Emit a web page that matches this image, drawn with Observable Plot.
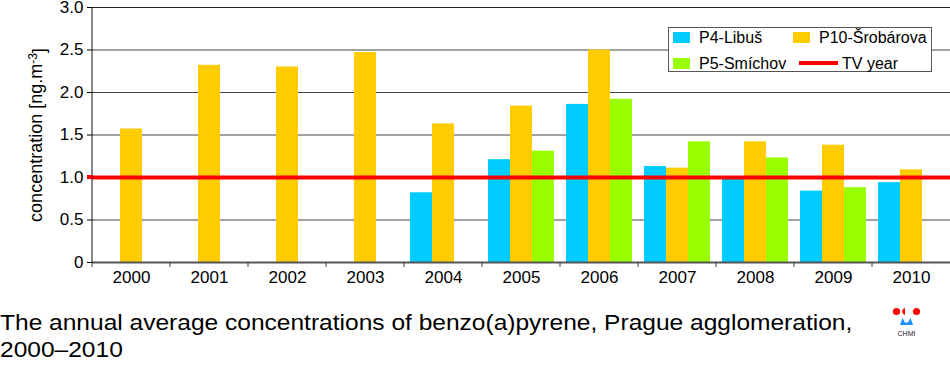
<!DOCTYPE html>
<html><head><meta charset="utf-8">
<script src="https://cdn.jsdelivr.net/npm/d3@7"></script>
<script src="https://cdn.jsdelivr.net/npm/@observablehq/plot@0.6"></script>
<style>
body{margin:0;background:#fff;font-family:"Liberation Sans",Arial,sans-serif;color:#000;}
#wrap{position:relative;width:950px;height:370px;overflow:hidden;}
#chart svg{display:block;}
#legend{position:absolute;left:668px;top:27px;width:262px;height:43px;border:1px solid #555;background:#fff;font-size:16px;line-height:16px;}
#legend .it{position:absolute;white-space:nowrap;}
#legend .sw{position:absolute;width:17px;height:11px;}
#legend .ln{position:absolute;width:39px;height:4px;}
#i0 .sw{left:4px;top:4px}   #i0 .tx{position:absolute;left:30px;top:2px}
#i1 .sw{left:124px;top:4px} #i1 .tx{position:absolute;left:150px;top:2px}
#i2 .sw{left:4px;top:30px}  #i2 .tx{position:absolute;left:30px;top:28px}
#i3 .ln{left:130px;top:33px} #i3 .tx{position:absolute;left:173px;top:28px}
#caption{position:absolute;left:0;top:309px;font-size:22px;line-height:27px;white-space:nowrap;transform-origin:0 0;transform:scaleX(1.115);}
#logo{position:absolute;left:888px;top:302px;}
</style></head>
<body><div id="wrap"><div id="chart"></div><div id="legend"></div><div id="caption"></div><div id="logo"></div></div>
<script>
const years = ["2000","2001","2002","2003","2004","2005","2006","2007","2008","2009","2010"];
const series = ["P4-Libuš","P10-Šrobárova","P5-Smíchov"];
const p4Libus    = [null,null,null,null,0.82,1.21,1.86,1.13,0.98,0.84,0.94];
const p10Srob    = [1.57,2.32,2.30,2.47,1.63,1.84,2.50,1.11,1.42,1.38,1.09];
const p5Smichov  = [null,null,null,null,null,1.31,1.92,1.42,1.23,0.88,null];
const colors = ["#00ccff","#ffcc00","#99ff00"];
const tvYear = 1.0;
const tvLabel = "TV year";
const yTicks = [0,0.5,1.0,1.5,2.0,2.5,3.0];
const yLabel = "concentration [ng.m";
const ySup = "-3";
const captionLines = ["The annual average concentrations of benzo(a)pyrene, Prague agglomeration,","2000–2010"];

const valuesBySeries = [p4Libus, p10Srob, p5Smichov];
const data = years.flatMap((yr, i) => series.map((s, k) => ({year: yr, series: s, value: valuesBySeries[k][i]})))
  .filter(d => d.value != null);

const chart = Plot.plot({
  width: 950, height: 290,
  marginLeft: 91, marginRight: 0, marginTop: 7, marginBottom: 28,
  style: {fontFamily: "'Liberation Sans', Arial, sans-serif", fontSize: "17px", color: "#000", background: "#fff"},
  fx: {domain: years, padding: 0, label: null, axis: null},
  x: {domain: series, paddingInner: 0, paddingOuter: 0.23, axis: null},
  y: {domain: [0, 3]},
  color: {domain: series, range: colors},
  marks: [
    Plot.gridY(yTicks, {stroke: "#444", strokeOpacity: 1}),
    Plot.ruleY([yTicks[yTicks.length - 1]], {stroke: "#222"}),
    Plot.barY(data, {fx: "year", x: "series", y: "value", fill: "series"}),
    Plot.ruleY([0], {stroke: "#555", strokeWidth: 2}),
    Plot.ruleY([tvYear], {stroke: "#ff0000", strokeWidth: 4}),
    Plot.axisY(yTicks, {tickSize: 5, tickPadding: 4, fontSize: 17,
      tickFormat: d => d === 0 ? "0" : d.toFixed(1),
      label: yLabel, labelAnchor: "center", labelArrow: "none", labelOffset: 63}),
    Plot.axisFx({anchor: "bottom", tickSize: 0, tickPadding: 8, fontSize: 17, label: null})
  ]
});
document.getElementById("chart").appendChild(chart);

// superscript in axis label, tick marks at year boundaries, y axis line
const svg = d3.select(chart);
svg.selectAll("text").filter(function(){ return this.textContent === yLabel; }).each(function(){
  const t = d3.select(this);
  t.attr("font-size", 18);
  t.append("tspan").attr("dy", "-0.45em").attr("font-size", 12).text(ySup);
  t.append("tspan").attr("dy", "0.45em").text("]");
});
const fx = chart.scale("fx"), y = chart.scale("y");
const y0 = y.apply(0), y3 = y.apply(3);
const xLeft = fx.apply(years[0]);
svg.append("g").selectAll("line").data(years).join("line")
  .attr("x1", d => fx.apply(d)).attr("x2", d => fx.apply(d))
  .attr("y1", y0).attr("y2", y0 + 5).attr("stroke", "#444");
svg.append("line").attr("x1", xLeft).attr("x2", xLeft).attr("y1", y3).attr("y2", y0 + 1)
  .attr("stroke", "#111");
svg.append("line").attr("x1", xLeft - 5).attr("x2", xLeft).attr("y1", y.apply(tvYear)).attr("y2", y.apply(tvYear))
  .attr("stroke", "#ff0000").attr("stroke-width", 4);

// legend
const legend = document.getElementById("legend");
const entries = series.map((s, k) => ({label: s, color: colors[k], kind: "sw"}));
entries.push({label: tvLabel, color: "#ff0000", kind: "ln"});
entries.forEach((e, i) => {
  const it = document.createElement("div");
  it.className = "it"; it.id = "i" + i;
  const m = document.createElement("div"); m.className = e.kind; m.style.background = e.color;
  const tx = document.createElement("div"); tx.className = "tx"; tx.textContent = e.label;
  it.appendChild(m); it.appendChild(tx); legend.appendChild(it);
});

// caption
document.getElementById("caption").innerHTML = captionLines.join("<br>");

// logo
document.getElementById("logo").innerHTML =
  '<svg width="40" height="40" viewBox="0 0 40 40">' +
  '<circle cx="8.5" cy="9.5" r="3.6" fill="#ff0000"/>' +
  '<path d="M17,6 A3.6,3.6 0 0 0 17,13 Z" fill="#ff0000"/>' +
  '<circle cx="28.5" cy="9.5" r="3.6" fill="#ff0000"/>' +
  '<path d="M12,23 L14.5,16 L17,20.5 L20,20.5 L22.5,16 L25,23 Z" fill="#1e90ff"/>' +
  '<text x="18.5" y="34" font-size="7" text-anchor="middle" font-family="Liberation Sans, Arial" fill="#222">CHMI</text>' +
  '</svg>';
</script>
</body></html>
